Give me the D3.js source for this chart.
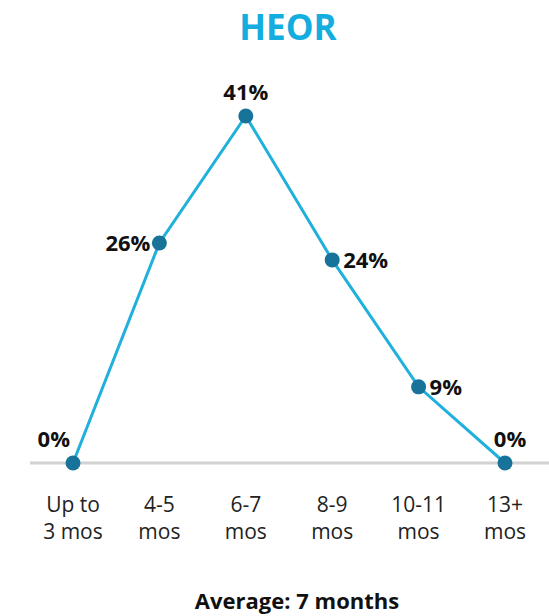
<!DOCTYPE html>
<html>
<head>
<meta charset="utf-8">
<script src="https://cdn.jsdelivr.net/npm/d3@7"></script>
<style>
  html, body { margin: 0; padding: 0; background: #fff; }
  svg { display: block; }
</style>
</head>
<body>
<script>
// Time-to-completion distribution for HEOR
const categories = ["Up to|3 mos", "4-5|mos", "6-7|mos", "8-9|mos", "10-11|mos", "13+|mos"];
const values = [0, 26, 41, 24, 9, 0];
// where each value label sits relative to its point
const labelPlacement = ["upleft", "left", "above", "right", "right", "above"];
const title = "HEOR";
const footnote = "Average: 7 months";

const W = 549, H = 616;
const svg = d3.select("body").append("svg").attr("width", W).attr("height", H);

const x = d3.scalePoint().domain(categories).range([73, 505]);
const y = d3.scaleLinear().domain([0, 41]).range([463, 116]);

const font = "'Open Sans', Roboto, sans-serif";

svg.append("text")
  .attr("x", 288).attr("y", 40)
  .attr("text-anchor", "middle")
  .attr("font-family", font).attr("font-weight", 700)
  .attr("font-size", 35).attr("fill", "#14ade0")
  .text(title);

// baseline
svg.append("line")
  .attr("x1", 30).attr("x2", W)
  .attr("y1", y(0)).attr("y2", y(0))
  .attr("stroke", "#d2d2d2").attr("stroke-width", 3);

const pts = categories.map((c, i) => ({ c, v: values[i], p: labelPlacement[i] }));

svg.append("path")
  .datum(pts)
  .attr("fill", "none")
  .attr("stroke", "#1fb0dc").attr("stroke-width", 3)
  .attr("d", d3.line().x(d => x(d.c)).y(d => y(d.v)));

svg.selectAll("circle.pt").data(pts).join("circle")
  .attr("class", "pt")
  .attr("cx", d => x(d.c)).attr("cy", d => y(d.v))
  .attr("r", 7.5).attr("fill", "#18739a");

// value labels
svg.selectAll("text.val").data(pts).join("text")
  .attr("class", "val")
  .attr("font-family", font).attr("font-weight", 700)
  .attr("font-size", 22).attr("fill", "#111")
  .attr("x", d => {
    const px = x(d.c);
    if (d.p === "left") return px - 9;
    if (d.p === "right") return px + 11;
    if (d.p === "upleft") return px - 3;
    return px + (d.v === 0 ? 5 : 0);
  })
  .attr("y", d => {
    const py = y(d.v);
    if (d.p === "left" || d.p === "right") return py + 8;
    return py - 16;
  })
  .attr("text-anchor", d => d.p === "left" || d.p === "upleft" ? "end" : d.p === "right" ? "start" : "middle")
  .text(d => d.v + "%");

// category labels, one text element per line
const catLines = categories.flatMap(c => c.split("|").map((s, i) => ({ c, s, i })));
svg.selectAll("text.cat").data(catLines).join("text")
  .attr("class", "cat")
  .attr("text-anchor", "middle")
  .attr("font-family", font).attr("font-weight", 400)
  .attr("font-size", 21).attr("fill", "#222")
  .attr("x", d => x(d.c))
  .attr("y", d => 512 + d.i * 27)
  .text(d => d.s);

svg.append("text")
  .attr("x", 297).attr("y", 609)
  .attr("text-anchor", "middle")
  .attr("font-family", font).attr("font-weight", 700)
  .attr("font-size", 22).attr("fill", "#111")
  .text(footnote);
</script>
</body>
</html>
